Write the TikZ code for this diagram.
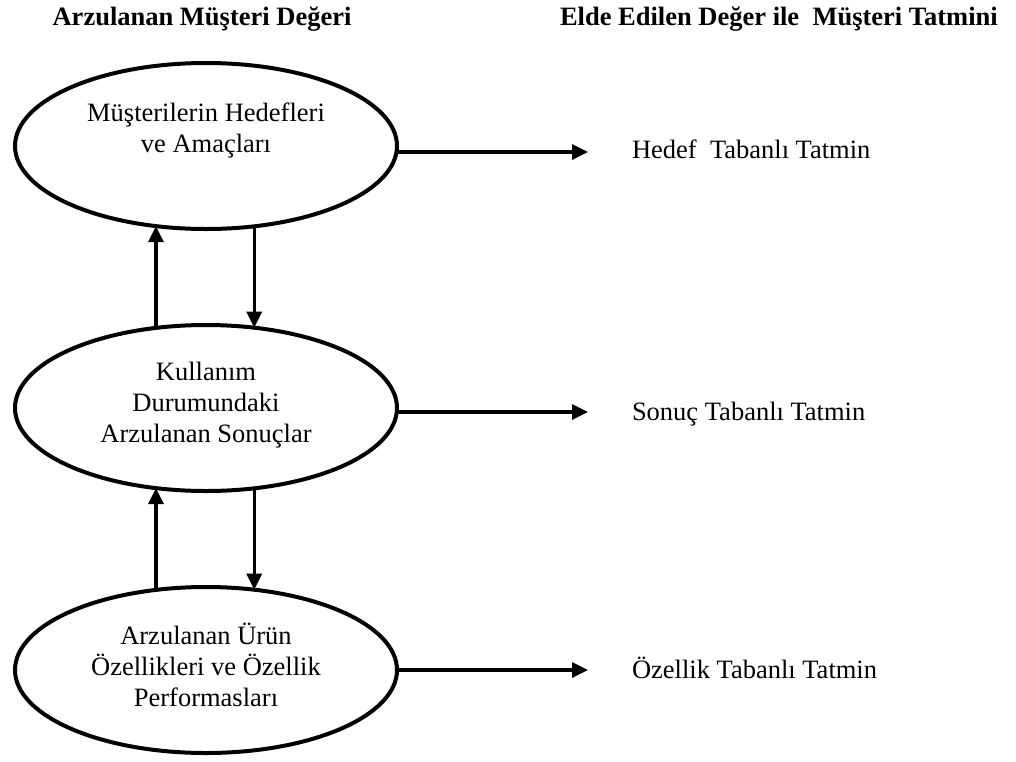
\documentclass[tikz,border=0pt]{standalone}
\usepackage{fontspec}
\setmainfont{Liberation Serif}
\usetikzlibrary{arrows.meta,shapes.geometric}
\begin{document}
\begin{tikzpicture}[x=1pt,y=-1pt,
  every node/.style={inner sep=0pt,outer sep=0pt},
  valuebox/.style={draw,line width=4pt,ellipse,minimum width=382pt,minimum height=166pt},
  bodytext/.style={font=\fontsize{26.5}{31}\selectfont,align=center,anchor=base},
  headtext/.style={font=\fontsize{26.5}{31}\selectfont\bfseries,anchor=base},
  resulttext/.style={font=\fontsize{26.5}{31}\selectfont,anchor=base west},
  flow/.style={line width=3.3pt,-{Triangle[length=16pt,width=15pt]}}]
\useasboundingbox (0,0) rectangle (1016,761);

% column headings
\node[headtext] (hl) at (202,25) {Arzulanan Müşteri Değeri};
\node[headtext,anchor=base west] (hr) at (560,25) {Elde Edilen Değer ile\ \ Müşteri Tatmini};

% value hierarchy
\node[valuebox] (e1) at (206,146) {};
\node[valuebox] (e2) at (206,408) {};
\node[valuebox] (e3) at (206,670) {};

% text blocks, placed by the baseline of their last line
\node[bodytext] (t1) at (206,152) {Müşterilerin Hedefleri\\ve Amaçları};
\node[bodytext] (t2) at (206,442) {Kullanım\\Durumundaki\\Arzulanan Sonuçlar};
\node[bodytext] (t3) at (206,706) {Arzulanan Ürün\\Özellikleri ve Özellik\\Performasları};

% satisfaction types
\node[resulttext] (r1) at (632,158) {Hedef\ \ Tabanlı Tatmin};
\node[resulttext] (r2) at (632,420) {Sonuç Tabanlı Tatmin};
\node[resulttext] (r3) at (632,678) {Özellik Tabanlı Tatmin};

\coordinate (h1) at (588,152);
\coordinate (h2) at (588,412);
\coordinate (h3) at (588,670);

% links between levels
\draw[flow] (e2.122) -- (e1.-122);
\draw[flow] (e1.-59.7) -- (e2.59.7);
\draw[flow] (e3.122) -- (e2.-122);
\draw[flow] (e2.-59.7) -- (e3.59.7);

% links to satisfaction
\draw[flow] ([yshift=-6pt]e1.east) -- (h1);
\draw[flow] ([yshift=-4pt]e2.east) -- (h2);
\draw[flow] (e3.east) -- (h3);
\end{tikzpicture}
\end{document}
